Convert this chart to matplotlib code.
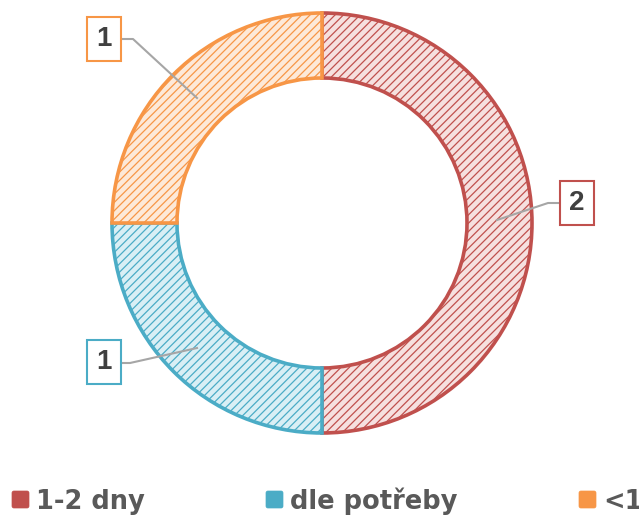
import matplotlib
matplotlib.use('Agg')
import matplotlib.pyplot as plt
from matplotlib.patches import FancyBboxPatch

# data
kategorie = ['1-2 dny', 'dle potřeby', '<1']
hodnoty = [2, 1, 1]
barvy = ['#c0504d', '#4bacc6', '#f79646']
svetle = ['#f6e0df', '#d9eff5', '#fde9d8']

plt.rcParams['font.family'] = ['Liberation Sans', 'DejaVu Sans']
plt.rcParams['hatch.linewidth'] = 0.9

W, H = 639, 516
fig = plt.figure(figsize=(W/100, H/100), dpi=100)
ax = fig.add_axes([0, 0, 1, 1])
ax.set_xlim(0, W)
ax.set_ylim(0, H)
ax.set_aspect('equal')
ax.axis('off')

cx, cy = 322, H - 223
wedges, _ = ax.pie(hodnoty, colors=svetle, startangle=90, counterclock=False,
                   center=(cx, cy), radius=210,
                   wedgeprops=dict(width=65, linewidth=2.6))
for w, c in zip(wedges, barvy):
    w.set_edgecolor(c)
    w.set_hatch('////')
ax.set_xlim(0, W)
ax.set_ylim(0, H)

# popisky s odkazovou carou
popisky = [
    (577, 203, [(560, 203), (548, 203), (497, 220)]),
    (104, 362, [(122, 363), (130, 363), (197, 348)]),
    (104, 39, [(122, 39), (133, 39), (197, 98)]),
]
for (tx, ty, cara), v, c in zip(popisky, hodnoty, barvy):
    xs = [p[0] for p in cara]
    ys = [H - p[1] for p in cara]
    ax.plot(xs, ys, color='#a6a6a6', lw=1.5, zorder=3)
    ax.text(tx, H - ty, str(v), fontsize=20, fontweight='bold', color='#404040',
            ha='center', va='center', zorder=4,
            bbox=dict(boxstyle='square,pad=0.33', fc='white', ec=c, lw=1.5))

# legenda
leg_x = [11, 265, 578]
for x0, k, c in zip(leg_x, kategorie, barvy):
    r = FancyBboxPatch((x0 + 1, H - 508), 17, 17, boxstyle='round,pad=0,rounding_size=2',
                       facecolor=c, edgecolor=c, hatch='///', lw=0.5)
    ax.add_patch(r)
    ax.text(x0 + 25, H - 509, k, fontsize=18.5, fontweight='bold', color='#595959',
            family=['DejaVu Sans'], ha='left', va='baseline')

fig.savefig('out.png', dpi=100)
